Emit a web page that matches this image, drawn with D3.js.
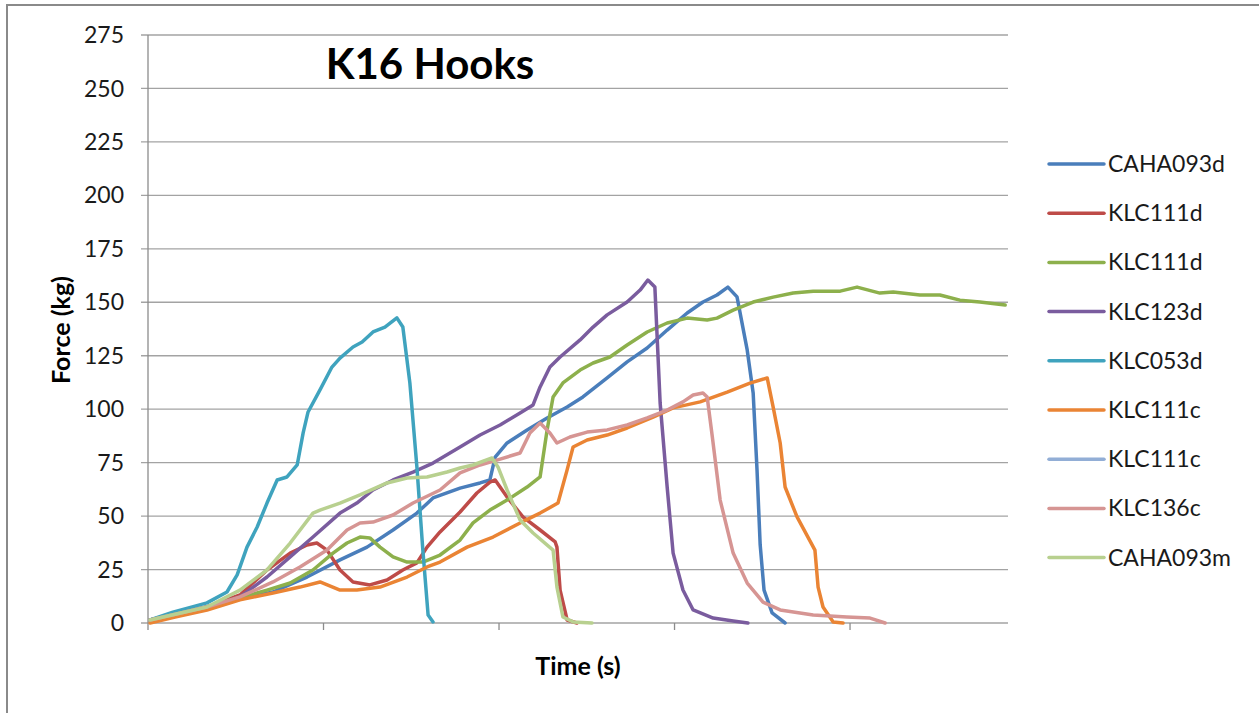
<!DOCTYPE html>
<html>
<head>
<meta charset="utf-8">
<script src="https://cdn.jsdelivr.net/npm/d3@7"></script>
<style>
  body { margin: 0; background: #fff; }
  svg text { font-family: Lato, "Open Sans", sans-serif; fill: #1a1a1a; }
</style>
</head>
<body>
<div id="chart"></div>
<script>
// series names and colours (legend order)
const seriesNames = ['CAHA093d', 'KLC111d', 'KLC111d', 'KLC123d', 'KLC053d', 'KLC111c', 'KLC111c', 'KLC136c', 'CAHA093m'];
const seriesColors = ['#4A7EBB', '#BE4B48', '#8DB04C', '#7A5C9E', '#3FA3BE', '#EA8434', '#92AED6', '#D69593', '#B8D08F'];

const yTicks = [0, 25, 50, 75, 100, 125, 150, 175, 200, 225, 250, 275];
const xTicks = [0, 50, 100, 150, 200];

// [time, force]
const caha093d = [[0.6,1.4],[16.8,6.5],[26.2,11.2],[35.6,14.5],[45.3,21.5],[54.7,29.5],[62.4,35.5],[69.8,43.5],[76.6,51.4],[81.2,58.5],[88.9,63.1],[94.6,65.5],[97.4,66.9],[98.9,77.6],[102.3,84.2],[108.0,90.3],[113.7,95.9],[119.4,101.0],[123.9,105.7],[130.8,114.6],[136.5,122.1],[142.2,128.6],[147.9,137.0],[153.6,145.0],[158.1,150.1],[162.1,153.4],[165.2,157.1],[167.8,152.5],[170.7,127.7],[172.4,107.6],[173.5,71.6],[174.4,36.5],[175.5,15.4],[177.8,4.7],[181.5,0]];
const klc111d_a = [[0.6,1.4],[16.8,7.5],[26.2,13.1],[33.9,24.8],[40.5,32.7],[45.3,36.5],[48.1,37.4],[51.0,34.1],[54.7,24.8],[58.4,19.2],[63.2,17.8],[68.1,20.1],[72.6,24.8],[76.6,28.1],[79.5,35.5],[83.2,42.6],[88.9,51.9],[93.7,60.8],[97.4,65.9],[98.9,66.9],[102.3,58.9],[106.8,49.6],[111.7,43.5],[116.0,37.9],[116.5,35.5],[117.4,15.4],[119.4,1.4],[122.2,0]];
const klc111d_b = [[0.6,1.4],[16.8,7.5],[26.2,11.7],[33.9,15.4],[40.5,18.7],[47.0,24.8],[52.7,32.7],[56.7,37.4],[60.4,40.2],[63.2,39.8],[66.1,35.5],[69.8,30.9],[73.8,28.5],[78.3,28.5],[83.2,31.8],[88.9,38.8],[92.6,46.8],[97.4,52.8],[102.3,57.5],[108.0,63.6],[111.7,68.3],[113.7,90.3],[115.4,105.7],[118.2,112.3],[123.1,118.3],[126.8,121.6],[131.6,124.4],[136.5,130.0],[142.2,136.1],[147.9,140.3],[153.6,142.6],[159.3,141.7],[162.1,142.6],[166.7,146.3],[172.4,150.1],[178.1,152.4],[183.8,154.3],[189.5,155.2],[197.2,155.2],[202.0,157.1],[208.5,154.3],[212.3,154.8],[219.9,153.4],[225.6,153.4],[231.3,151.0],[237.0,150.1],[244.2,148.7]];
const klc123d = [[0.6,1.4],[21.4,9.4],[26.2,12.2],[33.9,21.5],[40.5,30.9],[47.0,40.2],[54.7,51.4],[59.5,56.1],[64.1,62.2],[69.8,66.9],[75.5,70.6],[81.2,74.8],[88.9,82.3],[94.6,87.9],[100.3,92.6],[106.0,98.2],[109.7,102.0],[111.7,110.4],[114.5,119.7],[117.4,124.4],[123.1,132.4],[126.8,138.4],[130.8,144.1],[136.5,150.1],[140.2,155.7],[142.4,160.4],[144.4,157.1],[145.9,102.9],[147.9,63.6],[149.6,32.7],[152.4,15.4],[155.3,6.1],[161.0,2.3],[166.7,0.9],[170.9,0]];
const klc053d = [[0.6,1.4],[7.1,5.1],[16.8,9.4],[22.5,14.5],[25.4,22.5],[28.2,35.5],[31.1,44.9],[33.9,56.1],[36.8,66.9],[39.6,68.3],[42.5,73.9],[44.2,88.9],[45.6,98.7],[49.0,109.0],[52.4,119.7],[54.7,123.9],[58.4,129.1],[61.0,131.4],[64.1,136.1],[67.5,138.4],[70.9,142.7],[72.6,138.4],[74.6,112.3],[76.6,73.0],[78.3,34.1],[79.8,3.7],[81.2,0.5]];
const klc111c_a = [[0.6,0],[7.7,2.8],[16.8,6.1],[26.2,10.8],[35.6,14.0],[43.3,16.8],[49.0,19.2],[54.7,15.4],[59.5,15.4],[66.1,16.8],[73.8,21.5],[79.5,26.2],[83.2,28.5],[90.9,35.5],[98.3,40.2],[106.0,46.8],[111.7,51.4],[116.8,56.1],[119.4,71.6],[121.1,82.3],[125.1,85.6],[130.8,87.9],[136.5,91.2],[143.9,96.3],[149.6,100.6],[157.3,103.4],[165.0,108.0],[171.5,112.2],[176.4,114.6],[178.1,101.0],[180.1,84.2],[181.5,63.6],[184.9,49.6],[190.0,34.1],[190.9,16.8],[192.3,7.5],[195.2,0.5],[198.0,0]];
const klc111c_b = [];
const klc136c = [[0.6,1.4],[16.8,7.5],[26.2,12.2],[35.6,19.2],[43.3,26.2],[51.0,34.1],[56.7,43.5],[60.4,46.8],[64.1,47.2],[69.8,50.5],[75.5,56.1],[83.2,62.2],[88.9,70.2],[94.6,73.9],[99.4,76.2],[106.0,79.5],[108.8,88.9],[111.7,93.5],[114.5,88.9],[116.5,84.2],[120.2,87.0],[125.1,89.3],[130.8,90.3],[136.5,92.6],[142.2,95.9],[147.9,99.6],[152.4,103.4],[155.3,106.6],[158.1,107.6],[159.3,105.7],[160.7,87.9],[163.0,57.5],[166.7,32.7],[170.7,18.7],[175.2,9.8],[180.1,6.1],[189.5,3.7],[199.1,2.8],[205.7,2.3],[210.0,0]];
const caha093m = [[0.6,1.4],[16.8,7.5],[26.2,15.4],[33.9,24.8],[40.5,37.4],[47.0,51.4],[49.0,52.8],[54.7,56.1],[60.4,59.9],[68.1,65.5],[73.8,67.8],[79.5,68.3],[85.2,70.6],[88.9,72.5],[92.6,73.9],[98.0,77.2],[99.7,73.0],[102.3,62.2],[106.0,48.2],[109.7,42.1],[115.4,34.1],[116.5,16.8],[118.2,2.8],[121.1,0.5],[126.5,0]];

const seriesData = [caha093d, klc111d_a, klc111d_b, klc123d, klc053d, klc111c_a, klc111c_b, klc136c, caha093m];

const width = 1259, height = 713;
const plotLeft = 148, plotRight = 1008, plotTop = 35, plotBottom = 623;

const svg = d3.select('#chart').append('svg')
    .attr('width', width)
    .attr('height', height);

// outer chart frame
svg.append('rect')
    .attr('x', 7).attr('y', 5)
    .attr('width', width).attr('height', height)
    .attr('fill', 'none')
    .attr('stroke', '#8a8a8a')
    .attr('stroke-width', 2);

const x = d3.scaleLinear().domain([0, 245]).range([plotLeft, plotRight]);
const y = d3.scaleLinear().domain([0, 275]).range([plotBottom, plotTop]);

// gridlines + y tick marks
svg.append('g')
    .selectAll('line')
    .data(yTicks)
    .enter().append('line')
    .attr('x1', plotLeft - 7)
    .attr('x2', plotRight)
    .attr('y1', d => y(d))
    .attr('y2', d => y(d))
    .attr('stroke', '#a3a3a3')
    .attr('stroke-width', 1.3);

// y axis line
svg.append('line')
    .attr('x1', plotLeft).attr('x2', plotLeft)
    .attr('y1', plotTop).attr('y2', plotBottom)
    .attr('stroke', '#8c8c8c')
    .attr('stroke-width', 1.3);

// x tick marks (no labels)
svg.append('g')
    .selectAll('line')
    .data(xTicks)
    .enter().append('line')
    .attr('x1', d => x(d)).attr('x2', d => x(d))
    .attr('y1', plotBottom).attr('y2', plotBottom + 7)
    .attr('stroke', '#8c8c8c')
    .attr('stroke-width', 1.3);

// y tick labels
svg.append('g')
    .selectAll('text')
    .data(yTicks)
    .enter().append('text')
    .attr('x', 124)
    .attr('y', d => y(d))
    .attr('dy', '0.35em')
    .attr('text-anchor', 'end')
    .style('font-size', '23px')
    .text(d => d);

const line = d3.line()
    .x(d => x(d[0]))
    .y(d => y(d[1]));

// draw series, last one on top like Excel
svg.append('g')
    .selectAll('path')
    .data(seriesData)
    .enter().append('path')
    .attr('d', d => d.length ? line(d) : null)
    .attr('fill', 'none')
    .attr('stroke', (d, i) => seriesColors[i])
    .attr('stroke-width', 3.5)
    .attr('stroke-linejoin', 'round')
    .attr('stroke-linecap', 'round');

// title
svg.append('text')
    .attr('x', 430)
    .attr('y', 79)
    .attr('text-anchor', 'middle')
    .style('font-size', '42px')
    .style('font-weight', 'bold')
    .style('fill', '#000')
    .text('K16 Hooks');

// axis titles
svg.append('text')
    .attr('transform', 'translate(70,330) rotate(-90)')
    .attr('text-anchor', 'middle')
    .style('font-size', '25px')
    .style('font-weight', 'bold')
    .style('fill', '#000')
    .text('Force (kg)');

svg.append('text')
    .attr('x', 578)
    .attr('y', 675)
    .attr('text-anchor', 'middle')
    .style('font-size', '25px')
    .style('font-weight', 'bold')
    .style('fill', '#000')
    .text('Time (s)');

// legend
const legend = svg.append('g')
    .selectAll('g')
    .data(seriesNames)
    .enter().append('g')
    .attr('transform', (d, i) => `translate(1049,${164 + i * 49.2})`);

legend.append('line')
    .attr('x1', 0).attr('x2', 55)
    .attr('stroke', (d, i) => seriesColors[i])
    .attr('stroke-width', 3.5)
    .attr('stroke-linecap', 'round');

legend.append('text')
    .attr('x', 59)
    .attr('dy', '0.35em')
    .style('font-size', '23px')
    .text(d => d);
</script>
</body>
</html>
